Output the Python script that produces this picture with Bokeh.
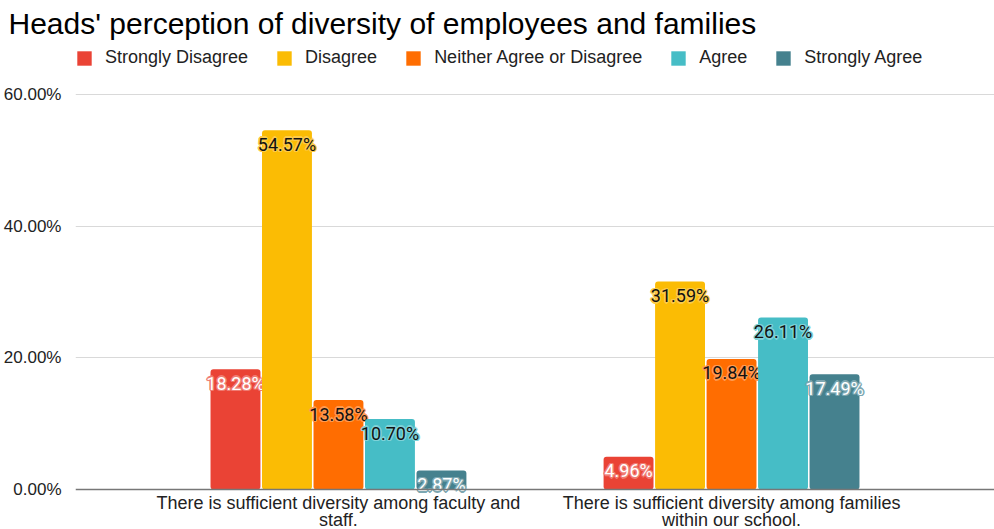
from bokeh.plotting import figure
from bokeh.models import (ColumnDataSource, Range1d, FixedTicker, PrintfTickFormatter,
                          Legend, LegendItem, Span)
from bokeh.core.properties import value
from bokeh.embed import file_html
from bokeh.resources import INLINE

title = "Heads' perception of diversity of employees and families"
categories = ["There is sufficient diversity among faculty and\nstaff.",
              "There is sufficient diversity among families\nwithin our school."]
series = ["Strongly Disagree", "Disagree", "Neither Agree or Disagree", "Agree", "Strongly Agree"]
strongly_disagree = [18.28, 4.96]
disagree = [54.57, 31.59]
neither = [13.58, 19.84]
agree = [10.70, 26.11]
strongly_agree = [2.87, 17.49]
y_ticks = [0, 20, 40, 60]

values = [strongly_disagree, disagree, neither, agree, strongly_agree]
colors = ["#EA4335", "#FBBC04", "#FF6D01", "#46BDC6", "#45818E"]
halo_colors = ["#F07B72", "#FCCB4A", "#FF9A50", "#7ED2D8", "#7DA7B1"]
text_colors = ["#ffffff", "#111111", "#111111", "#111111", "#ffffff"]

FONT = "Liberation Sans"

p = figure(width=994, height=529, output_backend="svg", toolbar_location=None,
           x_range=Range1d(-0.669, 1.669), y_range=Range1d(-6.076, 67.29),
           min_border_left=75, min_border_right=0, min_border_top=46, min_border_bottom=0)
p.outline_line_color = None
p.title.text = title
p.title.text_font = FONT
p.title.text_font_size = "30px"
p.title.text_font_style = "normal"
p.title.text_color = "#000000"
p.title.vertical_align = "top"
p.title.offset = -67

pitch = 0.131
bw = 0.127
items = []
for i, (name, vals) in enumerate(zip(series, values)):
    xs = [g + (i - 2) * pitch for g in range(len(categories))]
    src = ColumnDataSource(dict(x=xs, top=vals, label=[f"{v:.2f}%" for v in vals]))
    r = p.vbar(x="x", top="top", width=bw, bottom=0, source=src,
               fill_color=colors[i], line_color=None, border_radius=3)
    for dx, dy in [(-1.5, 0), (1.5, 0), (0, -1.5), (0, 1.5), (-1, -1), (1, 1), (-1, 1), (1, -1)]:
        p.text(x="x", y="top", text="label", source=src, text_align="center",
               text_baseline="middle", x_offset=dx, y_offset=14 + dy,
               text_font=value("Roboto"), text_font_size="18px",
               text_color=halo_colors[i])
    p.text(x="x", y="top", text="label", source=src, text_align="center",
           text_baseline="middle", y_offset=14, text_font=value("Roboto"),
           text_font_size="18px", text_color=text_colors[i])
    items.append(LegendItem(label=name, renderers=[r]))

# category labels below the baseline
cat_src = ColumnDataSource(dict(x=list(range(len(categories))), y=[0] * len(categories),
                                label=categories))
p.text(x="x", y="y", text="label", source=cat_src, text_align="center",
       text_baseline="top", y_offset=4, text_font=value(FONT), text_font_size="18px",
       text_line_height=0.85, text_color="#222222")
p.add_layout(Span(location=0, dimension="width", line_color="#777777", line_width=1.5))

legend = Legend(items=items, orientation="horizontal", location=(0, 461),
                glyph_width=18, glyph_height=18, label_text_font=FONT,
                label_text_font_size="18px", label_text_color="#222222",
                spacing=27, label_standoff=12, border_line_color=None,
                background_fill_alpha=0, margin=0, padding=2)
p.add_layout(legend)

p.xaxis.visible = False
p.xgrid.grid_line_color = None

p.yaxis.ticker = FixedTicker(ticks=y_ticks)
p.yaxis.formatter = PrintfTickFormatter(format="%.2f%%")
p.yaxis.axis_line_color = None
p.yaxis.major_tick_line_color = None
p.yaxis.minor_tick_line_color = None
p.yaxis.major_label_text_font = FONT
p.yaxis.major_label_text_font_size = "17px"
p.yaxis.major_label_text_color = "#222222"
p.yaxis.major_label_standoff = 8
p.ygrid.grid_line_color = "#d9d9d9"
p.ygrid.ticker = FixedTicker(ticks=[20, 40, 60])

open("out.html", "w").write(file_html(p, INLINE))
